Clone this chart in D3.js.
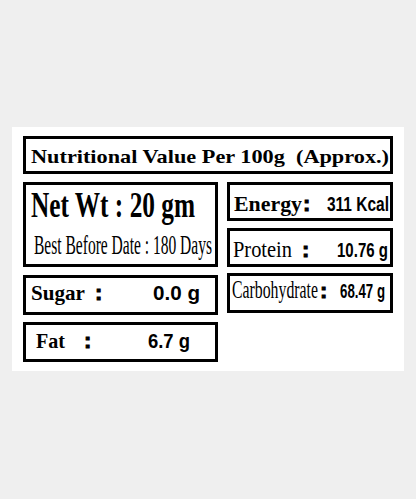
<!DOCTYPE html>
<html>
<head>
<meta charset="utf-8">
<script src="https://cdn.jsdelivr.net/npm/d3@7"></script>
<style>
  body { margin: 0; background: #efefef; }
  text { white-space: pre; }
</style>
</head>
<body>
<svg id="chart" width="416" height="499"></svg>
<script>
const title = "Nutritional Value Per 100g  (Approx.)";
const netWeight = "Net Wt : 20 gm";
const bestBefore = "Best Before Date : 180 Days";
const nutrients = ["Energy", "Protein", "Carbohydrate", "Sugar", "Fat"];
const amounts = ["311 Kcal", "10.76 g", "68.47 g", "0.0 g", "6.7 g"];

const svg = d3.select("#chart");
const serif = "'Liberation Serif', 'DejaVu Serif', serif";
const sans = "'Liberation Sans', Arial, sans-serif";

svg.append("rect").attr("x", 12).attr("y", 127).attr("width", 392).attr("height", 244).attr("fill", "#fff");

// box layout: [x, y, w, h, labelX, labelW, colonX, valueX, valueW, baseline, labelSize, bold]
const boxes = [
  [227, 182, 166, 39, 234, 68, 303, 327, 62, 211, 22, true],
  [227, 228, 166, 39, 233, 59, 302, 337, 51, 257, 24, false],
  [227, 273, 166, 40, 232, 86, 320, 340, 45, 298, 25, false],
  [23, 275, 195, 40, 31, 54, 95, 153, 47, 300, 21, true],
  [23, 322, 195, 40, 36, 29, 84, 148, 42, 348, 21, true]
];

function box(x, y, w, h) {
  svg.append("rect").attr("x", x + 1.5).attr("y", y + 1.5)
    .attr("width", w - 3).attr("height", h - 3)
    .attr("fill", "none").attr("stroke", "#000").attr("stroke-width", 3);
}

box(23, 136, 370, 38);
svg.append("text").attr("x", 31).attr("y", 163).text(title)
  .attr("font-family", serif).attr("font-weight", "bold").attr("font-size", 19)
  .attr("textLength", 358).attr("lengthAdjust", "spacingAndGlyphs");

box(23, 182, 195, 85);
svg.append("text").attr("x", 31).attr("y", 217).text(netWeight)
  .attr("font-family", serif).attr("font-weight", "bold").attr("font-size", 36)
  .attr("textLength", 164).attr("lengthAdjust", "spacingAndGlyphs");
svg.append("text").attr("x", 34).attr("y", 254).text(bestBefore)
  .attr("font-family", serif).attr("font-size", 27)
  .attr("textLength", 178).attr("lengthAdjust", "spacingAndGlyphs");

nutrients.forEach((name, i) => {
  const b = boxes[i];
  box(b[0], b[1], b[2], b[3]);
  svg.append("text").attr("x", b[4]).attr("y", b[9]).text(name)
    .attr("font-family", serif).attr("font-weight", b[11] ? "bold" : "normal")
    .attr("font-size", b[10])
    .attr("textLength", b[5]).attr("lengthAdjust", "spacingAndGlyphs");
  svg.append("text").attr("x", b[6]).attr("y", b[9]).text(":")
    .attr("font-family", sans).attr("font-weight", "bold").attr("font-size", 22)
    .attr("stroke", "#000").attr("stroke-width", 1);
  svg.append("text").attr("x", b[7]).attr("y", b[9]).text(amounts[i])
    .attr("font-family", sans).attr("font-weight", "bold").attr("font-size", 21)
    .attr("textLength", b[8]).attr("lengthAdjust", "spacingAndGlyphs");
});
</script>
</body>
</html>
